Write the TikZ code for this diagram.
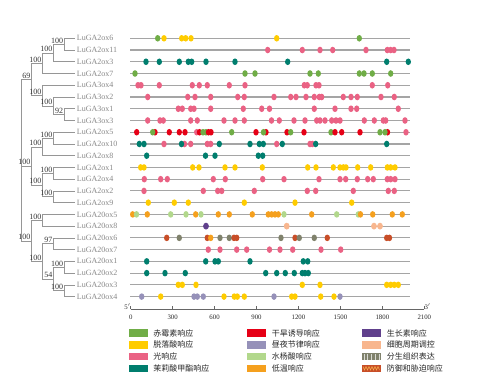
\documentclass[tikz,border=0pt]{standalone}
\usepackage{fontspec}
\setmainfont{Liberation Serif}
\newfontfamily\cjk{Noto Sans CJK SC}
\usetikzlibrary{positioning}
\definecolor{gib}{RGB}{112,173,71}
\definecolor{aba}{RGB}{255,204,0}
\definecolor{lgt}{RGB}{234,98,132}
\definecolor{mja}{RGB}{0,126,110}
\definecolor{drt}{RGB}{230,0,22}
\definecolor{cir}{RGB}{150,145,185}
\definecolor{sal}{RGB}{178,216,140}
\definecolor{low}{RGB}{245,160,30}
\definecolor{aux}{RGB}{96,64,140}
\definecolor{cyc}{RGB}{248,182,142}
\definecolor{mer}{RGB}{128,130,108}
\definecolor{def}{RGB}{200,78,40}
\definecolor{treegray}{RGB}{150,150,150}
\definecolor{leafgray}{RGB}{135,135,135}
\definecolor{linegray}{RGB}{165,165,165}

\begin{document}
\begin{tikzpicture}[x=1pt,y=-1pt,
  leaf/.style={anchor=west,inner sep=0pt,font=\fontsize{8}{8}\selectfont,text=leafgray},
  boot/.style={anchor=south east,inner sep=0.8pt,font=\fontsize{8}{8}\selectfont,text=black!80},
  branch/.style={draw=treegray,line width=0.6pt},
  gene/.style={draw=linegray,line width=1.1pt},
  tick/.style={inner sep=0pt,font=\fontsize{6.8}{7}\selectfont,text=black!85},
  swatch/.style={minimum width=19.5pt,minimum height=7.5pt,inner sep=0pt},
  legtext/.style={anchor=west,inner sep=0pt,font=\cjk\fontsize{8}{8}\selectfont,text=black!85}]
\useasboundingbox (0,0) rectangle (480,380);

% gene names and lines
\foreach \name [count=\i from 0] in {LuGA2ox6,LuGA2ox11,LuGA2ox3,LuGA2ox7,LuGA3ox4,LuGA3ox2,LuGA3ox1,LuGA3ox3,LuGA2ox5,LuGA2ox10,LuGA2ox8,LuGA2ox1,LuGA2ox4,LuGA2ox2,LuGA2ox9,LuGA20ox5,LuGA20ox8,LuGA20ox6,LuGA20ox7,LuGA20ox1,LuGA20ox2,LuGA20ox3,LuGA20ox4}{
  \coordinate (t\i) at (75,38.3+11.74*\i);
  \node[leaf] (g\i) at (76.7,38.3+11.74*\i) {\name};
  \coordinate (s\i) at (130,38.3+11.74*\i);
  \coordinate (e\i) at (410,38.3+11.74*\i);
  \draw[gene] (s\i) -- (e\i);
}

% tree nodes
\coordinate (A) at (64,44.17);
\coordinate (B) at (53.3,52.98);
\coordinate (C) at (42.3,63.25);
\coordinate (E) at (64,114.61);
\coordinate (F) at (53.3,105.8);
\coordinate (G) at (42.3,95.53);
\coordinate (D) at (31.5,79.39);
\coordinate (N) at (53.3,138.09);
\coordinate (L) at (42.3,146.9);
\coordinate (O1) at (53.3,173.31);
\coordinate (O2) at (53.3,196.79);
\coordinate (M) at (42.3,185.05);
\coordinate (K) at (31.5,165.97);
\coordinate (P) at (42.3,220.27);
\coordinate (T) at (53.3,243.75);
\coordinate (V) at (64,267.23);
\coordinate (W) at (64,290.71);
\coordinate (U) at (53.3,278.97);
\coordinate (Q) at (42.3,261.36);
\coordinate (S) at (31.5,240.8);
\coordinate (R) at (21.3,165.97);

% branches
\draw[branch] (A) |- (t0) (A) |- (t1) (B) |- (A) (B) |- (t2) (C) |- (B) (C) |- (t3);
\draw[branch] (E) |- (t6) (E) |- (t7) (F) |- (t5) (F) |- (E) (G) |- (t4) (G) |- (F);
\draw[branch] (D) |- (C) (D) |- (G);
\draw[branch] (N) |- (t8) (N) |- (t9) (L) |- (N) (L) |- (t10);
\draw[branch] (O1) |- (t11) (O1) |- (t12) (O2) |- (t13) (O2) |- (t14) (M) |- (O1) (M) |- (O2);
\draw[branch] (K) |- (L) (K) |- (M);
\draw[branch] (P) |- (t15) (P) |- (t16) (T) |- (t17) (T) |- (t18);
\draw[branch] (V) |- (t19) (V) |- (t20) (W) |- (t21) (W) |- (t22) (U) |- (V) (U) |- (W);
\draw[branch] (Q) |- (T) (Q) |- (U) (S) |- (P) (S) |- (Q);
\draw[branch] (R) |- (D) (R) |- (K) (R) |- (S);

% bootstrap values
\foreach \n/\v in {A/100,B/100,C/100,D/69,E/92,F/100,G/100,N/100,L/100,O1/100,O2/100,M/100,K/100,P/100,T/97,V/100,W/100,U/54,Q/100,S/100}
  \node[boot] (b\n) at (\n) {\v};

% motifs
\foreach \x/\c in {157.7/gib,164/aba,181.7/aba,185.7/aba,191/aba,276.7/aba,359.3/gib}
  \fill[\c] (\x,38.3) ellipse[x radius=2.7pt,y radius=3.3pt];
\foreach \x in {267.7,302.3,320,332.7,366,387.3,390.7,394}
  \fill[lgt] (\x,50.04) ellipse[x radius=2.7pt,y radius=3.3pt];
\foreach \x in {146,159.3,179.3,188.3,191.7,206,235,287.7,386.7,408.3}
  \fill[mja] (\x,61.78) ellipse[x radius=2.7pt,y radius=3.3pt];
\foreach \x in {135,245,255,310,318.3,359.3,364,372.3,390.7}
  \fill[gib] (\x,73.52) ellipse[x radius=2.7pt,y radius=3.3pt];
\foreach \x in {138,141,159.3,192.3,199.3,207.3,229.3,245,304.3,307.3,316,319,372.3,387.7}
  \fill[lgt] (\x,85.26) ellipse[x radius=2.7pt,y radius=3.3pt];
\foreach \x in {147.7,187.7,195,210.7,237.7,244.3,274,290.7,296,306,314.3,319.3,321.7,343.3,351,357.3,381,394.3}
  \fill[lgt] (\x,97) ellipse[x radius=2.7pt,y radius=3.3pt];
\foreach \x in {178.3,182.3,190.7,194,210.7,243.3,261.7,269.5,314.3,335,351,356.7,398.3}
  \fill[lgt] (\x,108.74) ellipse[x radius=2.7pt,y radius=3.3pt];
\foreach \x in {147.7,160,163.3,190.7,197.3,224,235,244.3,271.5,279.3,294,305,316.7,320,325,331.7,336,340,364.3,374.3,383.3,385.7,405}
  \fill[lgt] (\x,120.48) ellipse[x radius=2.7pt,y radius=3.3pt];
\foreach \x/\c in {136.7/drt,155/drt,152.7/gib,169.3/drt,179.3/drt,185/drt,196.7/lgt,199.5/drt,203/gib,206/gib,208.5/drt,211/drt,231.7/gib,256/drt,266/drt,263.5/gib,287/drt,290.7/gib,304/drt,331/gib,335/drt,341.7/drt,360/drt,380/gib,387.5/drt,385/gib,406/lgt}
  \fill[\c] (\x,132.22) ellipse[x radius=2.7pt,y radius=3.3pt];
\foreach \x/\c in {139.3/mja,144/mja,164/lgt,184.5/lgt,181.5/mja,190.7/lgt,207.3/lgt,210.7/lgt,219.3/mja,250/mja,259.3/mja,263.3/mja,276.7/lgt,282.3/mja,310/lgt,312.3/lgt,315.7/mja,386.7/mja}
  \fill[\c] (\x,143.96) ellipse[x radius=2.7pt,y radius=3.3pt];
\foreach \x in {146.7,205.5,215,258.3,262.7}
  \fill[mja] (\x,155.7) ellipse[x radius=2.7pt,y radius=3.3pt];
\foreach \x in {140.7,144,192.7,199,225,235,262.3,307.7,316,333.3,340,343.3,346,357.7,370.7,387.3,390.7,395}
  \fill[aba] (\x,167.44) ellipse[x radius=2.7pt,y radius=3.3pt];
\foreach \x in {144.3,160.7,167.3,213.3,225.3,262.7,284,319,340,345.7,357.3,367.7,373.3,387.3,390.7,395}
  \fill[lgt] (\x,179.18) ellipse[x radius=2.7pt,y radius=3.3pt];
\foreach \x in {144,203.3,217.7,221.7,254.3,307.3,315.7,353.3,388.3,394.3}
  \fill[lgt] (\x,190.92) ellipse[x radius=2.7pt,y radius=3.3pt];
\foreach \x in {148.3,174.3,188.3,244.3,295,351.7}
  \fill[aba] (\x,202.66) ellipse[x radius=2.7pt,y radius=3.3pt];
\foreach \x/\c in {132.7/low,136.5/sal,147.3/low,170.7/sal,186/sal,195.7/low,201/sal,218.3/low,229.3/low,252.3/low,268.3/low,271.7/low,275/low,278.3/low,284/sal,311.7/low,336.7/sal,358.3/sal,360.5/low,372.7/low,392.3/low,402.3/low}
  \fill[\c] (\x,214.4) ellipse[x radius=2.7pt,y radius=3.3pt];
\foreach \x/\c in {206/aux,286.7/cyc,374/cyc,380/cyc}
  \fill[\c] (\x,226.14) ellipse[x radius=2.9pt,y radius=3.4pt];
\foreach \x/\c in {166.7/def,179.3/mer,207.3/def,210.7/low,220/mer,229.3/mer,234/def,236.7/def,281/mer,295/def,299.3/mer,314.3/mer,327.3/def,386.7/def,389.5/def}
  \fill[\c] (\x,237.88) ellipse[x radius=2.7pt,y radius=3.3pt];
\foreach \x in {208.3,220,236.7,246.7,269.5,280,292.7,321,340.7}
  \fill[lgt] (\x,249.62) ellipse[x radius=2.7pt,y radius=3.3pt];
\foreach \x in {146.7,205.7,215,218.3,250,303.3,307.7}
  \fill[mja] (\x,261.36) ellipse[x radius=2.7pt,y radius=3.3pt];
\foreach \x in {146.7,165,185.3,265.7,276.7,285.3,294.3,302.3,305,308.3}
  \fill[mja] (\x,273.1) ellipse[x radius=2.7pt,y radius=3.3pt];
\foreach \x in {178.3,182.3,196,302.3,320,386.7,390.7,394.3,398.3}
  \fill[aba] (\x,284.84) ellipse[x radius=2.7pt,y radius=3.3pt];
\foreach \x/\c in {141.7/cir,160.7/aba,194/cir,197.3/cir,203.3/cir,224/aba,234.3/aba,237.3/aba,244.3/aba,274/cir,291.7/aba,295/aba,320.7/aba,334/aba,340/cir}
  \fill[\c] (\x,296.58) ellipse[x radius=2.7pt,y radius=3.3pt];

% axis
\coordinate (a0) at (130.7,309.3);
\coordinate (a1) at (424.3,309.3);
\draw[black!60,line width=0.6pt] (a0) -- (a1);
\node[tick,anchor=south east] (p5) at (a0) {5$'$};
\node[tick,anchor=south west] (p3) at (a1) {3$'$};
\foreach \v in {0,300,...,2100}{
  \draw[black!60,line width=0.6pt] (130.7+\v*0.13981,309.3) -- ++(0,-3);
  \node[tick] (k\v) at (130.7+\v*0.13981,316.8) {\v};
}

% legend
\foreach \c/\x/\y/\t/\n in {gib/128.3/333/赤霉素响应/1, aba/128.3/344.8/脱落酸响应/2, lgt/128.3/356.6/光响应/3, mja/128.3/368.4/茉莉酸甲酯响应/4,
  drt/246.7/333/干旱诱导响应/5, cir/246.7/344.8/昼夜节律响应/6, sal/246.7/356.6/水杨酸响应/7, low/246.7/368.4/低温响应/8,
  aux/361.7/333/生长素响应/9, cyc/361.7/344.8/细胞周期调控/10, mer/361.7/356.6/分生组织表达/11, def/361.7/368.4/防御和胁迫响应/12}{
  \node[swatch,fill=\c,anchor=west] (w\n) at (\x,\y) {};
  \node[legtext,right=5pt of w\n] (x\n) {\t};
}
\draw[white!70!mer,line width=0.5pt] (364,354) -- (364,359.5) (367,354) -- (367,359.5) (371,354) -- (371,359.5) (375,354) -- (375,359.5) (379,354) -- (379,359.5);
\draw[low!80!white,line width=0.5pt] (363,366.5) -- (364.5,370) -- (366,366.5) -- (367.5,370) -- (369,366.5) -- (370.5,370) -- (372,366.5) -- (373.5,370) -- (375,366.5) -- (376.5,370) -- (378,366.5) -- (379.5,370);
\end{tikzpicture}
\end{document}
